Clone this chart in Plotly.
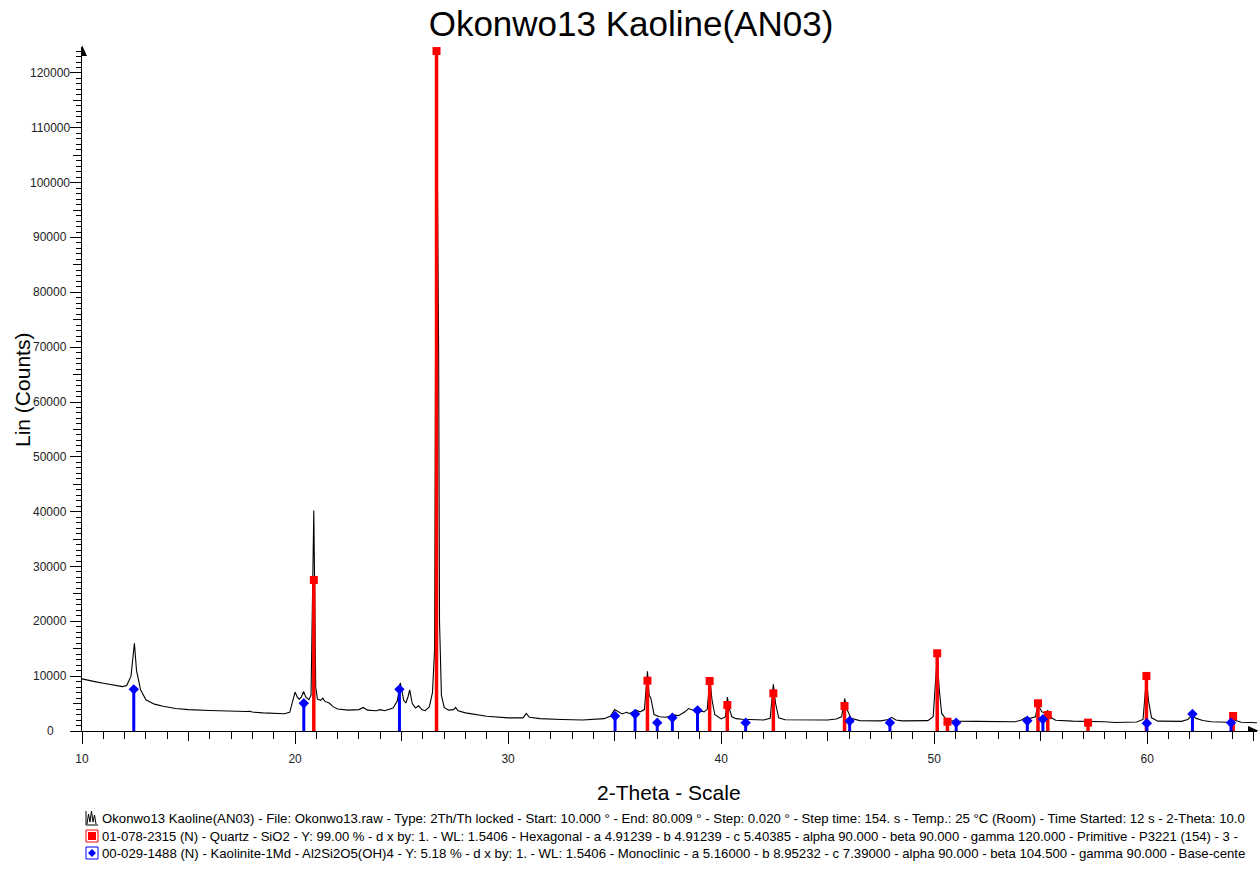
import plotly.graph_objects as go

# ---------------- data ----------------
two_theta = [10.0, 10.3, 10.6, 11.0, 11.5, 11.9, 12.1, 12.3, 12.46, 12.56, 12.75, 13.0, 13.4, 13.8,
             14.4, 15.0, 16.0, 17.0, 17.5, 17.7, 17.85, 18.0, 18.5, 19.0, 19.5, 19.75, 19.88, 20.0,
             20.1, 20.2, 20.3, 20.4, 20.5, 20.65, 20.75, 20.88, 20.97, 21.05, 21.2, 21.3, 21.4,
             21.6, 21.8, 22.0, 22.5, 23.0, 23.2, 23.4, 23.8, 24.0, 24.2, 24.4, 24.6, 24.8, 24.94,
             25.1, 25.2, 25.3, 25.38, 25.5, 25.65, 25.8, 25.95, 26.1, 26.3, 26.45, 26.55, 26.64,
             26.7, 26.74, 26.78, 26.87, 27.0, 27.2, 27.45, 27.53, 27.65, 28.0, 29.0, 30.0, 30.7,
             30.85, 31.0, 31.5, 32.5, 33.5, 34.5, 34.8, 35.0, 35.2, 35.35, 35.55, 35.7, 36.0, 36.2,
             36.4, 36.54, 36.62, 36.7, 36.85, 37.1, 37.4, 37.8, 38.0, 38.3, 38.47, 38.6, 38.75,
             38.9, 39.2, 39.35, 39.47, 39.57, 39.7, 40.0, 40.2, 40.29, 40.39, 40.5, 40.7, 41.0,
             41.3, 42.0, 42.3, 42.45, 42.55, 42.7, 43.0, 44.0, 45.0, 45.4, 45.65, 45.8, 45.9, 46.1,
             46.5, 47.5, 47.85, 48.0, 48.2, 48.5, 49.0, 49.7, 49.95, 50.14, 50.24, 50.35, 50.6,
             51.0, 52.0, 53.0, 53.8, 54.1, 54.3, 54.5, 54.75, 54.87, 54.95, 55.05, 55.2, 55.33,
             55.5, 55.7, 56.5, 57.5, 58.0, 58.5, 59.0, 59.5, 59.8, 59.96, 60.06, 60.2, 60.5, 61.0,
             61.6, 61.9, 62.1, 62.3, 62.6, 63.0, 63.8, 63.95, 64.04, 64.15, 64.4, 65.15]
counts = [9500, 9200, 9000, 8700, 8300, 8100, 8300, 10000, 16000, 11000, 7500, 5700, 4900, 4500,
          4100, 3900, 3750, 3600, 3500, 3550, 3600, 3450, 3300, 3200, 3150, 3400, 5500, 7100,
          6200, 5800, 6200, 7200, 6200, 5700, 6500, 40200, 8000, 5800, 5600, 6000, 5400,
          5100, 4400, 4000, 3800, 3900, 4300, 3800, 3700, 3900, 3700, 3900, 4200, 5500, 8800,
          5600, 5100, 6200, 7500, 5000, 4200, 4600, 3900, 3700, 4400, 7000, 15000, 124000,
          90000, 69000, 20000, 6500, 4300, 3800, 3900, 4300, 3700, 3300, 2700, 2400, 2400,
          3200, 2500, 2250, 2100, 2000, 2250, 2700, 3900, 3500, 3100, 3400, 3200, 3800, 3500,
          3900, 10900, 6500, 6000, 3000, 2600, 2500, 2900, 2800, 3500, 4100, 3900, 3700,
          3800, 3500, 4000, 9500, 5700, 3000, 2200, 2600, 6200, 4000, 2600, 2250, 2150,
          2100, 2000, 2300, 8500, 5100, 2400, 2050, 2000, 2000, 2200, 2600, 5900, 4000, 2300,
          1900, 1850, 2100, 2500, 2000, 1850, 1900, 1900, 2600, 13500, 7400, 3200, 1900,
          1800, 1750, 1750, 1700, 2000, 2500, 2300, 2600, 4800, 4200, 3500, 3300, 3700,
          2400, 1950, 1800, 1750, 1700, 1550, 1600, 1650, 2100, 9500, 5500, 2400, 1800, 1750,
          1750, 2100, 2800, 2300, 1900, 1700, 1600, 2000, 2350, 1900, 1600, 1500]

# Quartz 01-078-2315
quartz_pos = [20.88, 26.64, 36.54, 39.46, 40.29, 42.45, 45.79, 50.14, 50.62, 54.87, 55.33, 57.22, 59.96, 64.03]
quartz_int = [27540, 124000, 9180, 9120, 4740, 6870, 4560, 14170, 1700, 5050, 2920, 1520, 10040, 2740]

# Kaolinite-1Md 00-029-1488
kaol_pos = [12.43, 20.41, 24.90, 35.02, 35.96, 37.00, 37.71, 38.89, 41.15, 46.03, 47.92, 51.03, 54.37, 55.10, 59.98, 62.12, 63.93]
kaol_int = [7600, 5050, 7600, 2740, 3100, 1520, 2430, 3770, 1520, 1820, 1520, 1520, 1880, 2130, 1400, 3100, 1520]

y_tick_vals = [0, 10000, 20000, 30000, 40000, 50000, 60000, 70000, 80000, 90000, 100000, 110000, 120000]
x_tick_vals = [10, 20, 30, 40, 50, 60]

title_text = "Okonwo13 Kaoline(AN03)"
x_title = "2-Theta - Scale"
y_title = "Lin (Counts)"
legend_lines = [
    "Okonwo13 Kaoline(AN03) - File: Okonwo13.raw - Type: 2Th/Th locked - Start: 10.000 ° - End: 80.009 ° - Step: 0.020 ° - Step time: 154. s - Temp.: 25 °C (Room) - Time Started: 12 s - 2-Theta: 10.0",
    "01-078-2315 (N) - Quartz - SiO2 - Y: 99.00 % - d x by: 1. - WL: 1.5406 - Hexagonal - a 4.91239 - b 4.91239 - c 5.40385 - alpha 90.000 - beta 90.000 - gamma 120.000 - Primitive - P3221 (154) - 3 -",
    "00-029-1488 (N) - Kaolinite-1Md - Al2Si2O5(OH)4 - Y: 5.18 % - d x by: 1. - WL: 1.5406 - Monoclinic - a 5.16000 - b 8.95232 - c 7.39000 - alpha 90.000 - beta 104.500 - gamma 90.000 - Base-cente",
]

# ---------------- layout geometry ----------------
OFF = 0  # body margin removed via post_script
W, H = 1260, 869
L, T = 82 - OFF, 47 - OFF
PW, PH = 1175, 684
R = W - L - PW
B = H - T - PH
X_RANGE = [10, 65.15]
Y_RANGE = [0, 124740]
FONT = "Liberation Sans, Arial, sans-serif"


def px(p):
    """page pixel x -> paper x"""
    return (p - OFF - L) / PW


def py(p):
    """page pixel y -> paper y"""
    return (T + PH - (p - OFF)) / PH


def sticks(pos, val):
    xs, ys = [], []
    for x, v in zip(pos, val):
        xs += [x, x, None]
        ys += [0, v, None]
    return xs, ys


fig = go.Figure()
qx, qy = sticks(quartz_pos, quartz_int)
kx, ky = sticks(kaol_pos, kaol_int)

fig.add_trace(go.Scatter(x=two_theta, y=counts, mode="lines",
                         line=dict(color="black", width=1.1), hoverinfo="skip"))
fig.add_trace(go.Scatter(x=qx, y=qy, mode="lines", line=dict(color="#ff0000", width=3.5),
                         hoverinfo="skip"))
fig.add_trace(go.Scatter(x=kx, y=ky, mode="lines", line=dict(color="#0000ff", width=3),
                         hoverinfo="skip"))
fig.add_trace(go.Scatter(x=quartz_pos, y=quartz_int, mode="markers",
                         marker=dict(symbol="square", size=8, color="#ff0000", line=dict(width=0))))
fig.add_trace(go.Scatter(x=kaol_pos, y=kaol_int, mode="markers",
                         marker=dict(symbol="diamond", size=8, color="#0000ff", line=dict(width=0))))

tickfont = dict(family=FONT, size=12, color="#222")
fig.update_layout(
    width=W, height=H, margin=dict(l=L, r=R, t=T, b=B, autoexpand=False),
    paper_bgcolor="white", plot_bgcolor="white", showlegend=False,
    title=dict(text=title_text, x=(631 - OFF) / W, xref="container", xanchor="center",
               y=1 - (24 - OFF) / H, yref="container", yanchor="middle",
               font=dict(family=FONT, size=35, color="black")),
    xaxis=dict(range=X_RANGE, showgrid=False, zeroline=False, showline=True, linecolor="black",
               linewidth=1, ticks="outside", tickmode="array", tickvals=x_tick_vals,
               ticklen=12, tickcolor="black", tickwidth=1, tickfont=tickfont,
               ticklabelstandoff=5,
               minor=dict(dtick=1, tick0=10, ticks="outside", ticklen=7, tickcolor="black", tickwidth=1,
                          showgrid=False)),
    yaxis=dict(range=Y_RANGE, showgrid=False, zeroline=False, showline=True, linecolor="black",
               linewidth=1, ticks="outside", tickmode="array", tickvals=y_tick_vals,
               ticklen=11, tickcolor="black", tickwidth=1, showticklabels=False,
               minor=dict(dtick=1000, tick0=0, ticks="outside", ticklen=5, tickcolor="black", tickwidth=1,
                          showgrid=False)),
    xaxis2=dict(overlaying="x", range=X_RANGE, side="bottom", showgrid=False, zeroline=False,
                showline=False, ticks="outside", tick0=15, dtick=10, ticklen=9, tickcolor="black",
                showticklabels=False),
    yaxis2=dict(overlaying="y", range=Y_RANGE, side="left", showgrid=False, zeroline=False,
                showline=False, ticks="outside", tick0=5000, dtick=10000, ticklen=8, tickcolor="black",
                showticklabels=False),
)
# dummy trace to activate overlay axes
fig.add_trace(go.Scatter(x=[None], y=[None], xaxis="x2", yaxis="y2", hoverinfo="skip"))

# y tick labels (centered, as in reference)
for v in y_tick_vals:
    fig.add_annotation(x=px(50), xref="paper", y=v, yref="y", text=str(v), showarrow=False,
                       xanchor="center", yanchor="middle", font=tickfont)

# axis titles
fig.add_annotation(x=px(669), xref="paper", y=py(793), yref="paper", text=x_title, showarrow=False,
                   xanchor="center", yanchor="middle", font=dict(family=FONT, size=21, color="black"))
fig.add_annotation(x=px(22), xref="paper", y=py(390), yref="paper", text=y_title, showarrow=False,
                   textangle=-90, xanchor="center", yanchor="middle",
                   font=dict(family=FONT, size=21, color="black"))

# legend text lines
leg_y = [818, 836, 853]
leg_sizes = [13.2, 13.1, 13.2]
for txt, yy, s in zip(legend_lines, leg_y, leg_sizes):
    fig.add_annotation(x=px(100), xref="paper", y=py(yy), yref="paper", text=txt, showarrow=False,
                       xanchor="left", yanchor="middle", font=dict(family=FONT, size=s, color="black"))

# legend icons
peak_pts = [(87, 824), (88.5, 814), (90, 822), (91.5, 811), (93, 822), (94.5, 815), (96, 824)]
path = "M " + " L ".join(f"{px(a)},{py(b)}" for a, b in [(86, 811), (86, 825), (98, 825)])
fig.add_shape(type="path", xref="paper", yref="paper", path=path, line=dict(color="black", width=1))
path2 = "M " + " L ".join(f"{px(a)},{py(b)}" for a, b in peak_pts)
fig.add_shape(type="path", xref="paper", yref="paper", path=path2, line=dict(color="black", width=1))
fig.add_shape(type="rect", xref="paper", yref="paper", x0=px(86), x1=px(98), y0=py(842), y1=py(830),
              line=dict(color="#ff0000", width=1), fillcolor="white")
fig.add_shape(type="rect", xref="paper", yref="paper", x0=px(88), x1=px(96), y0=py(840), y1=py(832),
              line=dict(width=0), fillcolor="#ff0000")
fig.add_shape(type="rect", xref="paper", yref="paper", x0=px(86), x1=px(98), y0=py(859), y1=py(847),
              line=dict(color="#0000ff", width=1), fillcolor="white")
dia = "M " + " L ".join(f"{px(a)},{py(b)}" for a, b in [(92, 849), (96, 853), (92, 857), (88, 853)]) + " Z"
fig.add_shape(type="path", xref="paper", yref="paper", path=dia, line=dict(width=0), fillcolor="#0000ff")

# axis arrows
arr_y = "M " + " L ".join(f"{px(a)},{py(b)}" for a, b in [(82, 45), (87, 56), (82, 56)]) + " Z"
fig.add_shape(type="path", xref="paper", yref="paper", path=arr_y, line=dict(width=0), fillcolor="black")
arr_x = "M " + " L ".join(f"{px(a)},{py(b)}" for a, b in [(1259, 731), (1248, 726), (1248, 731)]) + " Z"
fig.add_shape(type="path", xref="paper", yref="paper", path=arr_x, line=dict(width=0), fillcolor="black")

fig.write_html("out.html", config={"displayModeBar": False},
               post_script="document.body.style.margin='0';document.body.style.overflow='hidden';")
